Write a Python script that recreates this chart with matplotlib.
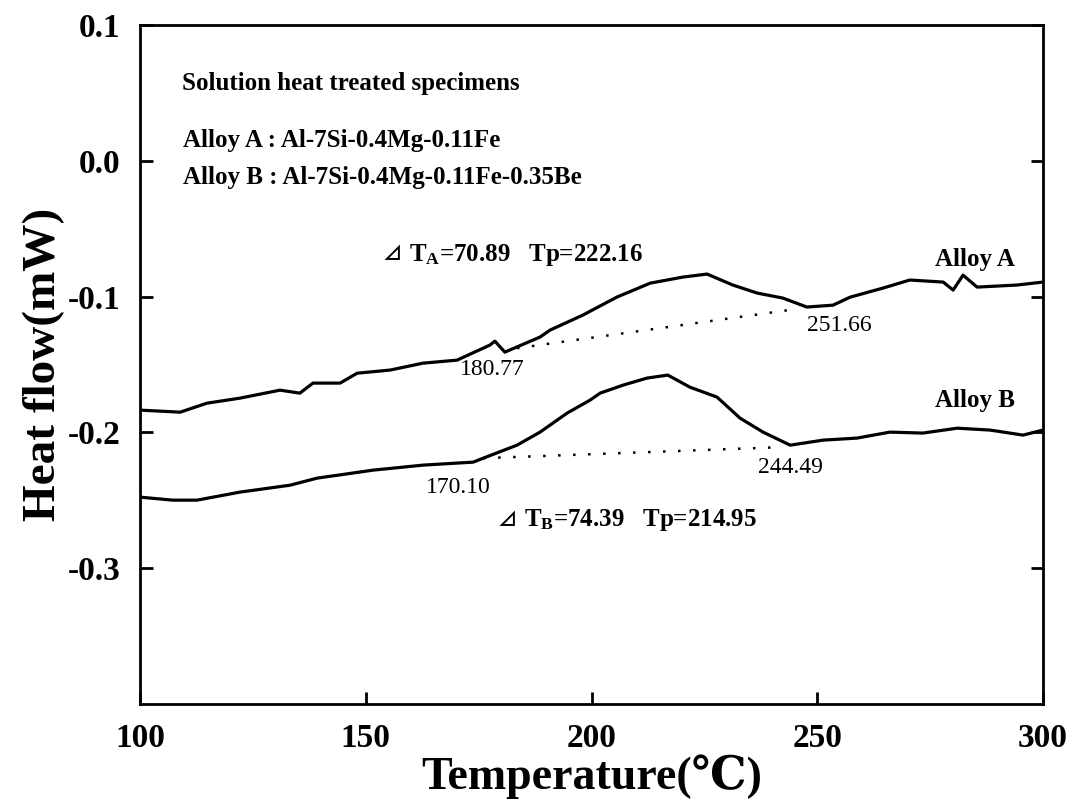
import matplotlib
matplotlib.use("Agg")
import matplotlib.pyplot as plt

# DSC traces (temperature in C, heat flow in mW)
temp_a = [100, 108.9, 114.8, 122.1, 131.0, 135.4, 138.3, 144.3, 148.1, 155.4,
          162.7, 170.2, 177.5, 178.6, 180.8, 188.6, 190.8, 198.1, 205.6, 213.0,
          220.3, 225.6, 231.3, 236.7, 242.4, 247.7, 253.5, 257.3, 264.6, 270.5,
          277.9, 280.1, 282.3, 285.4, 294.2, 300]
flow_a = [-0.1836, -0.1851, -0.1785, -0.1748, -0.1689, -0.1711, -0.1637, -0.1637, -0.1564, -0.1541,
          -0.1490, -0.1468, -0.1357, -0.1328, -0.1409, -0.1298, -0.1247, -0.1136, -0.1004, -0.0901,
          -0.0856, -0.0834, -0.0915, -0.0974, -0.1011, -0.1077, -0.1063, -0.1004, -0.0937, -0.0878,
          -0.0893, -0.0952, -0.0842, -0.0930, -0.0915, -0.0893]

temp_b = [100, 107.3, 112.6, 122.1, 133.2, 139.2, 151.6, 162.7, 173.8, 176.0,
          183.5, 188.6, 194.6, 199.7, 201.9, 207.0, 212.3, 216.9, 221.8, 227.8,
          232.9, 238.0, 244.0, 251.3, 258.8, 266.1, 273.4, 281.0, 288.3, 295.6, 300]
flow_b = [-0.2477, -0.2499, -0.2499, -0.2440, -0.2389, -0.2337, -0.2278, -0.2241, -0.2219, -0.2190,
          -0.2094, -0.1998, -0.1858, -0.1762, -0.1711, -0.1652, -0.1600, -0.1578, -0.1667, -0.1740,
          -0.1895, -0.1998, -0.2094, -0.2057, -0.2042, -0.1998, -0.2005, -0.1969, -0.1983, -0.2020, -0.1983]

# dotted baselines (onset -> end)
base_a_t = [183.5, 245.7]
base_a_f = [-0.138, -0.109]
base_b_t = [176.0, 241.0]
base_b_f = [-0.219, -0.211]

xticks = [100, 150, 200, 250, 300]
yticks = [0.1, 0.0, -0.1, -0.2, -0.3]

plt.rcParams['font.family'] = ['Liberation Serif', 'DejaVu Serif', 'Noto Sans CJK SC']
plt.rcParams['font.weight'] = 'bold'
plt.rcParams['axes.unicode_minus'] = False
plt.rcParams['mathtext.fontset'] = 'custom'
plt.rcParams['mathtext.rm'] = 'Liberation Serif:bold'
plt.rcParams['mathtext.bf'] = 'Liberation Serif:bold'
plt.rcParams['mathtext.default'] = 'rm'

fig = plt.figure(figsize=(10.74, 8.09), dpi=100)
ax = fig.add_axes([0.1304, 0.1298, 0.8407, 0.8393])

ax.plot(temp_a, flow_a, color='black', lw=2.3)
ax.plot(temp_b, flow_b, color='black', lw=2.3)
ax.plot(base_a_t, base_a_f, color='black', lw=1.8, ls=(0, (1, 5)))
ax.plot(base_b_t, base_b_f, color='black', lw=1.8, ls=(0, (1, 5)))

ax.set_xlim(100, 300)
ax.set_ylim(-0.4, 0.1)
ax.set_xticks(xticks)
ax.set_xticklabels([str(t) for t in xticks])
ax.set_yticks(yticks)
ax.set_yticklabels(['%.1f' % v for v in yticks])
ax.tick_params(direction='in', length=9, width=2, labelsize=24, right=True, pad=14)
for s in ax.spines.values():
    s.set_linewidth(2)

ax.set_xlabel('Temperature(\u2103)', fontsize=33, fontweight='bold', labelpad=0)
ax.set_ylabel('Heat flow(mW)', fontsize=34, fontweight='bold', labelpad=2)

# annotations
fs = 18
ax.text(109.3, 0.057, 'Solution heat treated specimens', fontsize=fs, va='center')
ax.text(109.5, 0.0153, 'Alloy A : Al-7Si-0.4Mg-0.11Fe', fontsize=fs, va='center')
ax.text(109.5, -0.012, 'Alloy B : Al-7Si-0.4Mg-0.11Fe-0.35Be', fontsize=fs, va='center')

ax.text(153.8, -0.0694, '\u22bf', fontsize=14, va='center',
        family=['Noto Sans CJK SC', 'DejaVu Sans'])
ax.text(159.6, -0.0694, 'T$_{A}$=70.89   Tp=222.16', fontsize=fs, va='center')
ax.text(179.2, -0.2646, '\u22bf', fontsize=14, va='center',
        family=['Noto Sans CJK SC', 'DejaVu Sans'])
ax.text(185.0, -0.2646, 'T$_{B}$=74.39   Tp=214.95', fontsize=fs, va='center')

ax.text(276, -0.073, 'Alloy A', fontsize=fs, va='center')
ax.text(276, -0.1763, 'Alloy B', fontsize=fs, va='center')

ax.text(178, -0.154, '180.77', fontsize=17, fontweight='normal', ha='center', va='center')
ax.text(255, -0.121, '251.66', fontsize=17, fontweight='normal', ha='center', va='center')
ax.text(170.4, -0.2403, '170.10', fontsize=17, fontweight='normal', ha='center', va='center')
ax.text(244, -0.226, '244.49', fontsize=17, fontweight='normal', ha='center', va='center')

fig.savefig('out.png', dpi=100)
